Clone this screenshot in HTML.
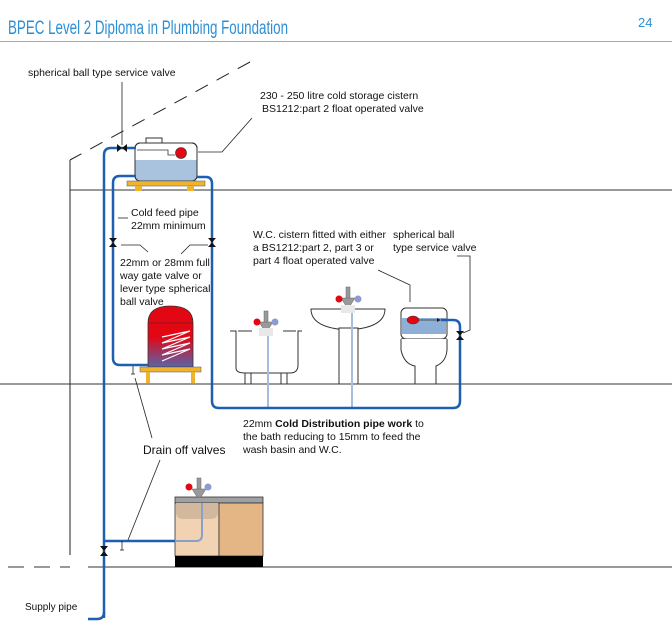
<!DOCTYPE html>
<html><head><style>
body{margin:0;background:#fff;}
svg{display:block;font-family:"Liberation Sans",sans-serif;}
</style></head><body>
<svg width="672" height="625" viewBox="0 0 672 625">
<text x="8" y="34" font-size="19" fill="#2d8fd5" textLength="280" lengthAdjust="spacingAndGlyphs">BPEC Level 2 Diploma in Plumbing Foundation</text>
<text x="638" y="27" font-size="13" fill="#2d8fd5">24</text>
<line x1="0" y1="41.5" x2="672" y2="41.5" stroke="#8fb3cc" stroke-width="1"/>
<!-- building -->
<line x1="250" y1="62" x2="70" y2="160" stroke="#222" stroke-width="1" stroke-dasharray="14,10"/>
<line x1="70" y1="160" x2="70" y2="555" stroke="#222" stroke-width="1"/>
<line x1="70" y1="190" x2="672" y2="190" stroke="#333" stroke-width="1"/>
<line x1="0" y1="384" x2="672" y2="384" stroke="#333" stroke-width="1"/>
<line x1="8" y1="567" x2="70" y2="567" stroke="#333" stroke-width="1" stroke-dasharray="16,10"/>
<line x1="88" y1="567" x2="672" y2="567" stroke="#333" stroke-width="1"/>
<!-- cistern -->
<rect x="146" y="138" width="16" height="6" fill="#fff" stroke="#333"/>
<rect x="135" y="143" width="62" height="38" rx="5" fill="#fff" stroke="#333"/>
<path d="M135.5 160 H196.5 V176 a5 5 0 0 1 -5 5 H140.5 a5 5 0 0 1 -5 -5Z" fill="#a9c3df"/>
<rect x="135" y="143" width="62" height="38" rx="5" fill="none" stroke="#333"/>
<path d="M137 150 H168 V155 H175" fill="none" stroke="#333" stroke-width="0.8"/>
<circle cx="181" cy="153" r="5.5" fill="#e30613" stroke="#333" stroke-width="0.6"/>
<rect x="127" y="181" width="78" height="5" fill="#f0b42c" stroke="#555" stroke-width="0.5"/>
<rect x="135" y="186" width="7" height="5" fill="#f0b42c"/><rect x="187" y="186" width="7" height="5" fill="#f0b42c"/>
<!-- cylinder -->
<defs><linearGradient id="g" x1="0" y1="0" x2="0" y2="1"><stop offset="0.5" stop-color="#e30613"/><stop offset="1" stop-color="#5a64a8"/></linearGradient></defs>
<path d="M148 323 Q148 306 170.5 306 Q193 306 193 323 V367 H148Z" fill="url(#g)" stroke="#333" stroke-width="0.8"/>
<line x1="148" y1="323" x2="193" y2="323" stroke="#333" stroke-width="0.6"/>
<path d="M162 337 L190 331 L162 343 L190 337 L162 349 L190 343 L162 355 L190 349 L162 361" fill="none" stroke="#fff" stroke-width="1.2"/>
<rect x="140" y="367" width="61" height="5" fill="#f0b42c" stroke="#555" stroke-width="0.5"/>
<rect x="146" y="372" width="4" height="11" fill="#f0b42c"/><rect x="191" y="372" width="4" height="11" fill="#f0b42c"/>
<!-- bath -->
<path d="M230 331 H236 V368 Q236 373 245 373 H290 Q298 373 298 365 V331 H302" fill="#fff" stroke="#333"/>
<line x1="238" y1="331" x2="252" y2="331" stroke="#333"/><line x1="283" y1="331" x2="296" y2="331" stroke="#333"/>
<rect x="245" y="373" width="6" height="11" fill="#fff" stroke="#333"/><rect x="281" y="373" width="6" height="11" fill="#fff" stroke="#333"/>
<!-- basin -->
<path d="M311 309 H385 Q385 328 348 330 Q311 328 311 309Z" fill="#fff" stroke="#333"/>
<rect x="339" y="328" width="19" height="56" fill="#fff" stroke="#333"/>
<!-- WC -->
<rect x="401" y="308" width="46" height="31" rx="5" fill="#fff" stroke="#333"/>
<rect x="402" y="318" width="44" height="16" fill="#8fb0d6"/>
<line x1="401" y1="339" x2="447" y2="339" stroke="#333"/>
<path d="M401 339 V350 Q404 364 415 366 V384 H436 V366 Q446 362 447 350 V339" fill="#fff" stroke="#333"/>
<ellipse cx="413" cy="320" rx="6" ry="4" fill="#e30613" stroke="#333" stroke-width="0.5"/>
<path d="M419 320 H440" stroke="#333" stroke-width="0.7"/>
<path d="M437 318 L441 320 L437 322Z" fill="#222"/>
<!-- kitchen unit -->
<rect x="175" y="497" width="88" height="6" fill="#a0a0a0" stroke="#333" stroke-width="0.8"/>
<rect x="175" y="503" width="44" height="53" fill="#f1d3b3" stroke="#333" stroke-width="0.8"/>
<rect x="219" y="503" width="44" height="53" fill="#e4b585" stroke="#333" stroke-width="0.8"/>
<path d="M176 503 H218 V512 Q218 519 210 519 H184 Q176 519 176 512Z" fill="#d2b89c"/>
<rect x="175" y="556" width="88" height="11" fill="#000"/>
<!-- taps -->
<g fill="#999" stroke="#666" stroke-width="0.5">
<rect x="264" y="311" width="4" height="14"/><path d="M259 322 L273 322 L268 330 L264 330Z"/>
<rect x="346" y="287" width="4" height="14"/><path d="M341 298 L355 298 L350 306 L346 306Z"/>
<rect x="197" y="478" width="4" height="15"/><path d="M192 489 L206 489 L201 497 L197 497Z"/>
</g>
<rect x="259" y="328" width="14" height="8" fill="#e8e8e8"/><rect x="341" y="305" width="14" height="8" fill="#e8e8e8"/>
<circle cx="257" cy="322" r="3.5" fill="#e30613"/><circle cx="275" cy="322" r="3.5" fill="#8e9ad0"/>
<circle cx="339" cy="299" r="3.5" fill="#e30613"/><circle cx="358" cy="299" r="3.5" fill="#8e9ad0"/>
<circle cx="189" cy="487" r="3.5" fill="#e30613"/><circle cx="208" cy="487" r="3.5" fill="#8e9ad0"/>
<!-- light pipes -->
<g stroke="#a7bde0" stroke-width="2" fill="none">
<line x1="268" y1="336" x2="268" y2="407"/><line x1="352" y1="313" x2="352" y2="407"/>
</g>
<path d="M202 503 V535 Q202 541 196 541 H175" stroke="#8aa0c8" stroke-width="2" fill="none"/>
<!-- blue pipes -->
<g stroke="#1d5fb0" stroke-width="2.5" fill="none">
<path d="M104 618 V155 Q104 148 111 148 H136"/>
<path d="M136 176 H120 Q113 176 113 183 V358 Q113 365 120 365 H148"/>
<path d="M197 177 H206 Q212 177 212 184 V401 Q212 408 219 408 H453 Q460 408 460 401 V327 Q460 320 453 320 H441"/>
<path d="M104 541 H175"/>
<path d="M104 612 Q104 619 97 619 H88"/>
</g>
<!-- valves -->
<g fill="#111">
<path d="M117 144 L117 152 L127 144 L127 152Z"/>
<path d="M109 238 L117 238 L109 247 L117 247Z"/>
<path d="M208 238 L216 238 L208 247 L216 247Z"/>
<path d="M100 546 L108 546 L100 556 L108 556Z"/>
<path d="M456 331 L464 331 L456 340 L464 340Z"/>
</g>
<g stroke="#222" stroke-width="0.8">
<line x1="133" y1="366" x2="133" y2="374"/><line x1="131" y1="374" x2="135" y2="374"/>
<line x1="122" y1="541" x2="122" y2="550"/><line x1="120" y1="550" x2="124" y2="550"/>
</g>
<!-- leaders -->
<g stroke="#222" stroke-width="0.8" fill="none">
<path d="M122 82 V145"/>
<path d="M252 118 L222 152 H198"/>
<path d="M118 218 H128"/>
<path d="M121 245 H140 L148 252"/>
<path d="M208 245 H190 L181 254"/>
<path d="M378 270 L410 285 V302"/>
<path d="M457 256 H470 V330 L463 333"/>
<path d="M135 378 L152 438"/>
<path d="M160 460 L128 540"/>
</g>
<!-- text -->
<g font-size="10.5" fill="#111">
<text x="28" y="76">spherical ball type service valve</text>
<text x="260" y="99">230 - 250 litre cold storage cistern</text>
<text x="262" y="112">BS1212:part 2 float operated valve</text>
<text x="131" y="216">Cold feed pipe</text>
<text x="131" y="229">22mm minimum</text>
<text x="120" y="266">22mm or 28mm full</text>
<text x="120" y="279">way gate valve or</text>
<text x="120" y="292">lever type spherical</text>
<text x="120" y="305">ball valve</text>
<text x="253" y="238">W.C. cistern fitted with either</text>
<text x="253" y="251">a BS1212:part 2, part 3 or</text>
<text x="253" y="264">part 4 float operated valve</text>
<text x="393" y="238">spherical ball</text>
<text x="393" y="251">type service valve</text>
<text x="243" y="427">22mm <tspan font-weight="bold">Cold Distribution pipe work</tspan> to</text>
<text x="243" y="440">the bath reducing to 15mm to feed the</text>
<text x="243" y="453">wash basin and W.C.</text>
<text x="143" y="454" font-size="12">Drain off valves</text>
<text x="25" y="610" font-size="10">Supply pipe</text>
</g>
</svg>
</body></html>
